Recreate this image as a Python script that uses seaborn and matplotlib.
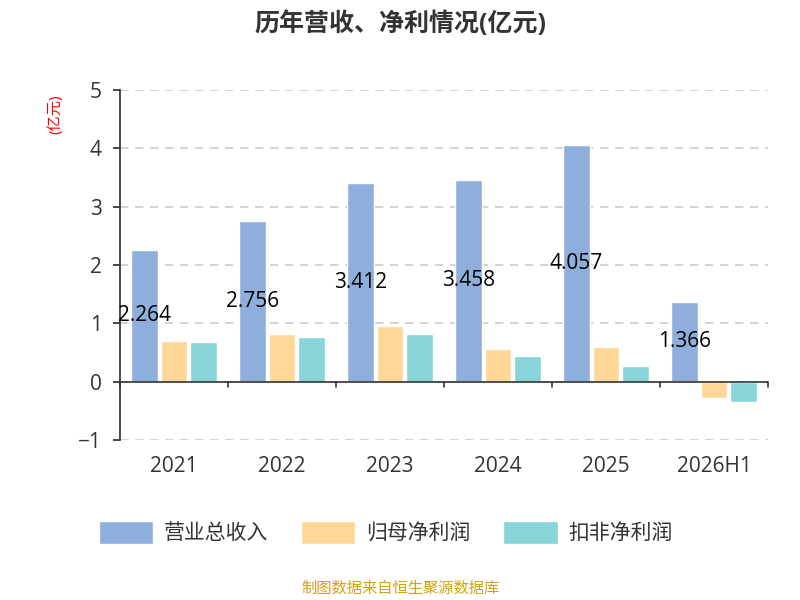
import numpy as np
import pandas as pd
import seaborn as sns
from matplotlib import pyplot as plt

years = ["2021", "2022", "2023", "2024", "2025", "2026H1"]
revenue = [2.264, 2.756, 3.412, 3.458, 4.057, 1.366]
net_profit = [0.70, 0.82, 0.96, 0.55, 0.60, -0.29]
deducted_profit = [0.67, 0.77, 0.81, 0.43, 0.26, -0.36]
series = ["营业总收入", "归母净利润", "扣非净利润"]
colors = ["#8eaedb", "#fed797", "#87d5d8"]

df = pd.DataFrame({"year": years * 3,
                   "value": revenue + net_profit + deducted_profit,
                   "series": [s for s in series for _ in years]})

sns.set_theme(style="white")
plt.rcParams["font.family"] = ["Open Sans", "Noto Sans CJK SC", "DejaVu Sans"]

fig = plt.figure(figsize=(8, 6), dpi=100)
ax = fig.add_axes([0.15, 0.267, 0.81, 0.583])
sns.barplot(data=df, x="year", y="value", hue="series", palette=colors,
            saturation=1, width=0.82, gap=0.1, ax=ax, legend=True)

# revenue labels at mid-height of the first bar in each group
for p, v in zip(ax.containers[0], revenue):
    ax.text(p.get_x() + p.get_width() / 2, v / 2, "%.3f" % v,
            ha="center", va="center", fontsize=15, color="black")

ax.set_ylim(-1, 5)
ax.set_xlim(-0.5, 5.5)
ax.set_yticks([-1, 0, 1, 2, 3, 4, 5])
ax.yaxis.grid(True, linestyle=(0, (5, 4)), color="#cccccc", linewidth=1.2)
ax.set_axisbelow(True)
for s in ["top", "right", "bottom"]:
    ax.spines[s].set_visible(False)
ax.spines["left"].set_color("#333333")
ax.axhline(0, color="#333333", linewidth=1.2)
ax.tick_params(axis="both", labelsize=15, colors="#333333", length=0, pad=8)
ax.tick_params(axis="y", left=True, length=5, color="#333333")
for xb in np.arange(-0.5, 6, 1):
    ax.plot([xb, xb], [0, -0.1], color="#333333", linewidth=1.2, clip_on=False)
ax.set_xlabel("")
ax.set_ylabel("")
ax.set_xticks(range(6), years)
ax.tick_params(axis="x", pad=12)

fig.text(0.07, 0.81, "(亿元)", rotation=90, color="red", fontsize=11, ha="center", va="center")
fig.text(0.5, 0.96, "历年营收、净利情况(亿元)", ha="center", va="center", fontsize=18,
         fontweight="bold", color="#333333")
fig.text(0.5, 0.018, "制图数据来自恒生聚源数据库", ha="center", va="center", fontsize=11, color="#d4a017")

ax.legend(loc="center", bbox_to_anchor=(0.41, -0.265), ncol=3, frameon=False,
          fontsize=15, handlelength=2.6, handleheight=1.3, columnspacing=1.6,
          handletextpad=0.5, labelcolor="#333333")

fig.savefig("out.png", dpi=100)
